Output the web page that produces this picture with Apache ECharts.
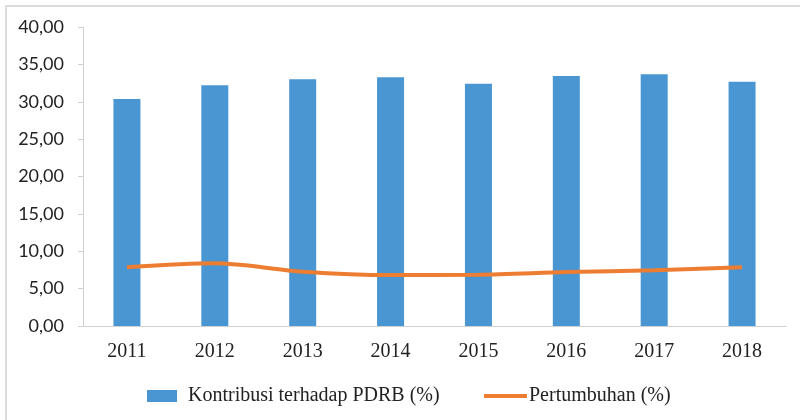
<!DOCTYPE html>
<html>
<head>
<meta charset="utf-8">
<script src="https://cdn.jsdelivr.net/npm/echarts@6/dist/echarts.min.js"></script>
</head>
<body style="margin:0;background:#fff;">
<div id="main" style="width:800px;height:420px;"></div>
<script type="text/javascript">
    // data
    var years = ['2011', '2012', '2013', '2014', '2015', '2016', '2017', '2018'];
    var kontribusi = [30.37, 32.20, 33.00, 33.27, 32.40, 33.44, 33.67, 32.68];
    var pertumbuhan = [7.85, 8.38, 7.27, 6.82, 6.86, 7.22, 7.45, 7.85];

    var myChart = echarts.init(document.getElementById('main'));

    var option = {
        animation: false,
        graphic: [{
            type: 'rect',
            shape: { x: 6, y: 6, width: 900, height: 600 },
            style: { fill: 'none', stroke: '#dcdcdc', lineWidth: 2 }
        }],
        legend: [{
            data: ['Kontribusi terhadap PDRB (%)'],
            left: 142, top: 381,
            icon: 'rect',
            itemWidth: 30, itemHeight: 12,
            textStyle: { fontFamily: 'Liberation Serif', fontSize: 20, color: '#222', padding: [0, 0, 0, 6] }
        }, {
            data: ['Pertumbuhan (%)'],
            left: 479, top: 381,
            icon: 'rect',
            itemWidth: 43, itemHeight: 4,
            textStyle: { fontFamily: 'Liberation Serif', fontSize: 20, color: '#222', padding: [0, 0, 0, -3] }
        }],
        grid: { left: 83, right: 14, top: 27, bottom: 94 },
        xAxis: {
            type: 'category',
            data: years,
            axisLine: { lineStyle: { color: '#d0d0d0', width: 1 } },
            axisTick: { show: false },
            axisLabel: { fontFamily: 'Liberation Serif', fontSize: 20, color: '#222', margin: 16 }
        },
        yAxis: {
            type: 'value',
            min: 0, max: 40, interval: 5,
            splitLine: { show: false },
            axisLine: { show: true, lineStyle: { color: '#d0d0d0' } },
            axisTick: { show: true, length: 5, lineStyle: { color: '#d0d0d0' } },
            axisLabel: {
                fontFamily: 'Lato', fontSize: 18, color: '#222', margin: 19,
                formatter: function (v) { return v.toFixed(2).replace('.', ','); }
            }
        },
        series: [{
            name: 'Kontribusi terhadap PDRB (%)',
            type: 'bar',
            barWidth: 27,
            itemStyle: { color: '#4a96d2' },
            data: kontribusi
        }, {
            name: 'Pertumbuhan (%)',
            type: 'line',
            smooth: 0.3,
            symbol: 'none',
            lineStyle: { color: '#ed7d31', width: 4 },
            itemStyle: { color: '#ed7d31' },
            data: pertumbuhan
        }]
    };

    myChart.setOption(option);
</script>
</body>
</html>
